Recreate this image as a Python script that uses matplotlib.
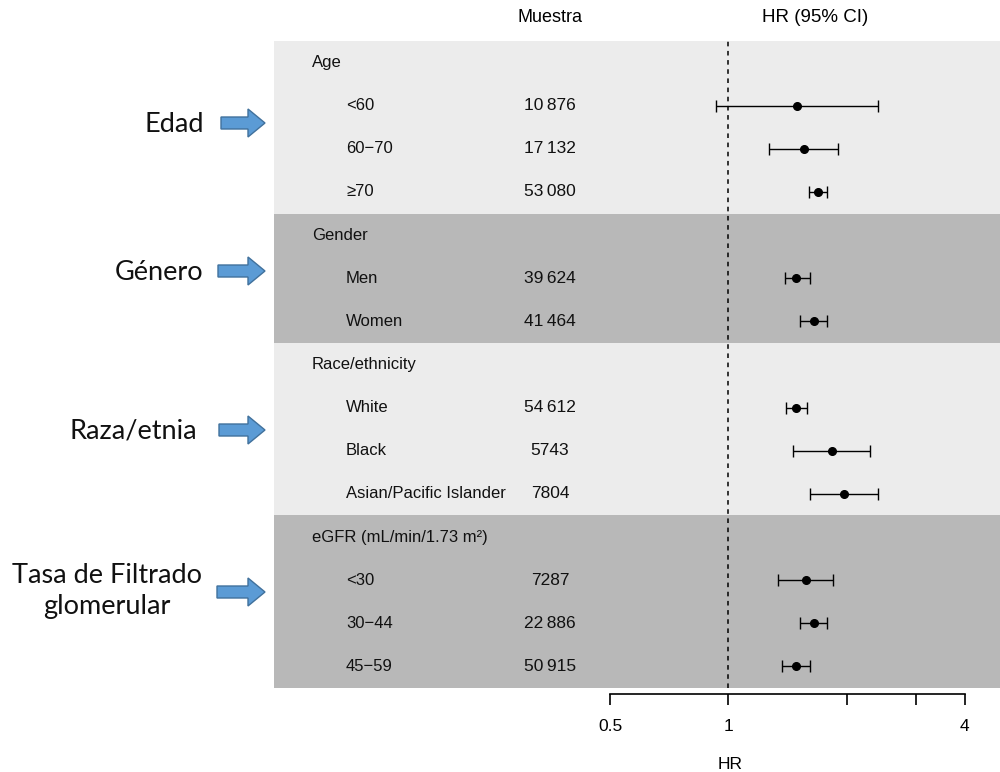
import matplotlib.pyplot as plt
import numpy as np
from matplotlib.patches import FancyArrow
from matplotlib import transforms

# Datos del forest plot
row_labels = ["Age", "<60", "60\u221270", "\u226570",
              "Gender", "Men", "Women",
              "Race/ethnicity", "White", "Black", "Asian/Pacific Islander",
              "eGFR (mL/min/1.73 m\u00b2)", "<30", "30\u221244", "45\u221259"]
is_header = [True, False, False, False,
             True, False, False,
             True, False, False, False,
             True, False, False, False]
muestra = ["", "10\u2009876", "17\u2009132", "53\u2009080",
           "", "39\u2009624", "41\u2009464",
           "", "54\u2009612", "5743", "7804",
           "", "7287", "22\u2009886", "50\u2009915"]
hr = [np.nan, 1.50, 1.56, 1.69, np.nan, 1.49, 1.65, np.nan, 1.49, 1.84, 1.97, np.nan, 1.58, 1.65, 1.49]
hr_lo = [np.nan, 0.93, 1.27, 1.60, np.nan, 1.39, 1.52, np.nan, 1.40, 1.46, 1.61, np.nan, 1.34, 1.52, 1.37]
hr_hi = [np.nan, 2.41, 1.90, 1.78, np.nan, 1.61, 1.78, np.nan, 1.59, 2.29, 2.41, np.nan, 1.85, 1.78, 1.61]

# bandas de grupos (filas inicio, fin)
grupos = [(0, 3), (4, 6), (7, 10), (11, 14)]
band_colors = ["#ececec", "#b8b8b8", "#ececec", "#b8b8b8"]

# anotaciones de la izquierda
anot_text = ["Edad", "G\u00e9nero", "Raza/etnia", "Tasa de Filtrado\nglomerular"]

plt.rcParams['font.family'] = ['Liberation Sans', 'DejaVu Sans']

fig = plt.figure(figsize=(10, 7.72), dpi=100)
ax = fig.add_axes([0.274, 1 - 688 / 772, 0.726, (688 - 41) / 772])

y = np.arange(len(row_labels))
hr_a = np.array(hr)
lo_a = np.array(hr_lo)
hi_a = np.array(hr_hi)

for (a, b), c in zip(grupos, band_colors):
    ax.axhspan(a - 0.5, b + 0.5, color=c, lw=0, zorder=0)

ax.axvline(1, color='black', ls=(0, (3, 3)), lw=1.1, zorder=1)

ok = ~np.isnan(hr_a)
ax.errorbar(hr_a[ok], y[ok], xerr=[hr_a[ok] - lo_a[ok], hi_a[ok] - hr_a[ok]],
            fmt='o', color='black', ms=5.5, elinewidth=1.0, capsize=4.5,
            capthick=1.0, zorder=3)

ax.set_xscale('log', base=2)
ax.set_xlim(0.0698, 4.914)
ax.set_ylim(14.5, -0.5)

for s in ['left', 'right', 'top']:
    ax.spines[s].set_visible(False)
ax.spines['bottom'].set_position(('outward', 4))
ax.spines['bottom'].set_bounds(0.5, 4)
ax.spines['bottom'].set_linewidth(1.2)
ax.set_xticks([0.5, 1, 2, 3, 4])
ax.set_xticklabels(["0.5", "1", "", "", "4"])
ax.xaxis.set_minor_locator(plt.NullLocator())
ax.tick_params(axis='x', length=8, width=1.2, pad=10, labelsize=12.5)
ax.set_yticks([])
ax.set_xlabel("HR", fontsize=12.5)
ax.xaxis.set_label_coords(0.628, -0.1175)
ax.xaxis.label.set_va('center')

tr = transforms.blended_transform_factory(ax.transAxes, ax.transData)
for i, lab in enumerate(row_labels):
    xpos = 0.0523 if is_header[i] else 0.0992
    ax.text(xpos, i, lab, transform=tr, ha='left', va='center', fontsize=12, color='#111111')
    if muestra[i]:
        ax.text(0.380, i, muestra[i], transform=tr, ha='center', va='center', fontsize=12.5, color='#111111')

fig.text(0.550, 1 - 18 / 772, "Muestra", ha='center', va='center', fontsize=13)
fig.text(0.815, 1 - 18 / 772, "HR (95% CI)", ha='center', va='center', fontsize=13.5)

# capa para anotaciones en pixeles
ov = fig.add_axes([0, 0, 1, 1], zorder=5)
ov.set_xlim(0, 1000)
ov.set_ylim(772, 0)
ov.axis('off')
anot_x = [204, 203, 197, 107]
anot_y = [125, 272, 431, 591]
anot_ha = ['right', 'right', 'right', 'center']
arrow_x = [221, 218, 219, 217]
arrow_y = [123, 271, 430, 592]
for t, tx, ty, ha, axx, ayy in zip(anot_text, anot_x, anot_y, anot_ha, arrow_x, arrow_y):
    ov.text(tx, ty, t, ha=ha, va='center', fontsize=19.5, family='Lato',
            linespacing=1.3, color='#111111')
    ov.add_patch(FancyArrow(axx, ayy, 265 - axx, 0, width=12, head_width=28,
                            head_length=17, length_includes_head=True,
                            fc='#5b9bd5', ec='#41719c', lw=1))

plt.savefig("out.png", dpi=100)
